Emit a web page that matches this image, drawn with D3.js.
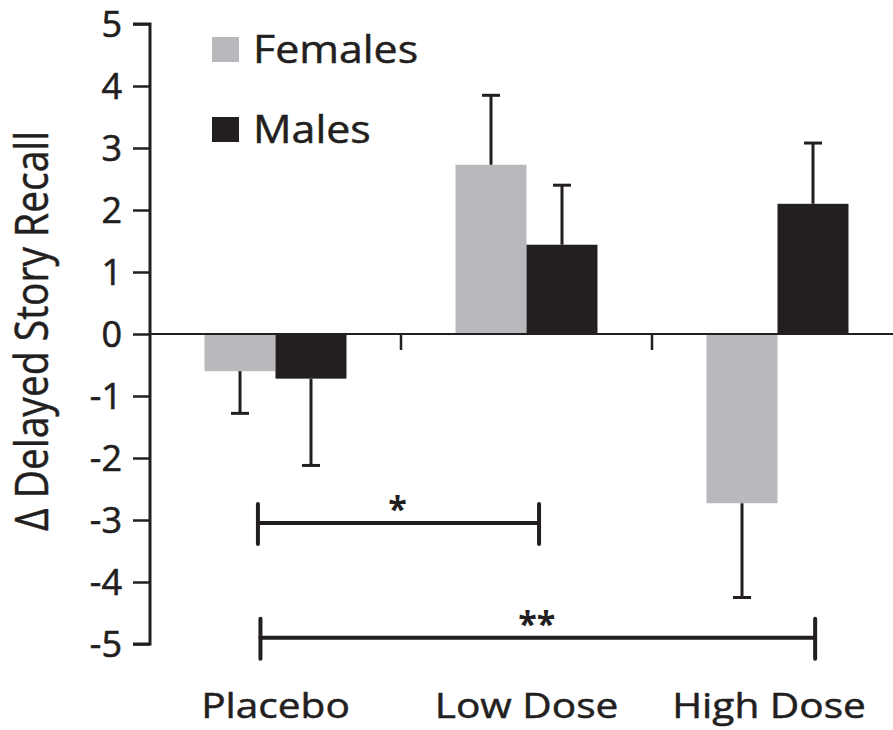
<!DOCTYPE html>
<html>
<head>
<meta charset="utf-8">
<script src="https://cdn.jsdelivr.net/npm/d3@7"></script>
<style>
  body { margin: 0; background: #fff; }
  text { font-family: "Open Sans", sans-serif; fill: #231f20; }
</style>
</head>
<body>
<div id="chart"></div>
<script>
// data
const groups = ["Placebo", "Low Dose", "High Dose"];
const sexes = ["Females", "Males"];
const femaleMean = [-0.6, 2.73, -2.73];
const femaleErr = [-1.28, 3.85, -4.25];
const maleMean = [-0.72, 1.44, 2.1];
const maleErr = [-2.12, 2.4, 3.08];
const yTicks = [5, 4, 3, 2, 1, 0, -1, -2, -3, -4, -5];
// significance brackets: from group index (+offset) to group index (+offset), at y value
const sigFrom = [-0.07, -0.06];
const sigTo = [1.05, 2.15];
const sigY = [-3.05, -4.9];
const sigLabel = ["*", "**"];

const Width = 893, Height = 730;
const colors = { Females: "#b9b9bd", Males: "#231f20" };
const ink = "#231f20";
const stretch = 1.16; // the source figure is a bit wider than its fonts

const svg = d3.select("#chart").append("svg")
    .attr("width", Width).attr("height", Height);

// scales
const axisX = 150;
const x0 = d3.scaleBand().domain(groups).range([axisX, 903]).paddingInner(0).paddingOuter(0);
const x1 = d3.scaleBand().domain(sexes).range([0, x0.bandwidth()]).paddingInner(0).paddingOuter(0.768);
const y = d3.scaleLinear().domain([-5, 5]).range([644, 24]);
// position of a group centre given a fractional index
const gx = i => x0(groups[0]) + x0.bandwidth() * (i + 0.5);

// y axis
const gy = svg.append("g").attr("transform", "translate(" + axisX + ",0)")
    .call(d3.axisLeft(y).tickValues(yTicks).tickSize(17).tickPadding(11).tickFormat(d => String(d)));
gy.select(".domain").attr("stroke", ink).attr("stroke-width", 3).attr("d", "M-17," + y(5) + "H0V" + y(-5) + "H-17");
gy.selectAll(".tick line").attr("stroke", ink).attr("stroke-width", 2.5);
gy.selectAll(".tick text").attr("font-size", 36).attr("font-family", "Open Sans, sans-serif")
    .attr("fill", ink).attr("stroke", ink).attr("stroke-width", 0.6).attr("dy", "0.36em");

// y title
svg.append("text")
    .attr("transform", "translate(48,331) rotate(-90) scale(1," + stretch + ")")
    .attr("text-anchor", "middle")
    .attr("font-size", 39)
    .attr("stroke", ink).attr("stroke-width", 0.4)
    .text("Δ Delayed Story Recall");

// bars
const rows = [];
groups.forEach((g, i) => {
    rows.push({ g: g, s: "Females", v: femaleMean[i], e: femaleErr[i] });
    rows.push({ g: g, s: "Males", v: maleMean[i], e: maleErr[i] });
});

svg.selectAll(".bar").data(rows).enter().append("rect")
    .attr("class", "bar")
    .attr("x", d => x0(d.g) + x1(d.s))
    .attr("width", x1.bandwidth())
    .attr("y", d => y(Math.max(0, d.v)))
    .attr("height", d => Math.abs(y(d.v) - y(0)))
    .attr("fill", d => colors[d.s]);

// error bars (one-sided)
const capW = 18;
const eb = svg.selectAll(".err").data(rows).enter().append("g").attr("class", "err")
    .attr("stroke", ink).attr("stroke-width", 3);
eb.append("line")
    .attr("x1", d => x0(d.g) + x1(d.s) + x1.bandwidth() / 2)
    .attr("x2", d => x0(d.g) + x1(d.s) + x1.bandwidth() / 2)
    .attr("y1", d => y(d.v))
    .attr("y2", d => y(d.e));
eb.append("line")
    .attr("x1", d => x0(d.g) + x1(d.s) + x1.bandwidth() / 2 - capW / 2)
    .attr("x2", d => x0(d.g) + x1(d.s) + x1.bandwidth() / 2 + capW / 2)
    .attr("y1", d => y(d.e))
    .attr("y2", d => y(d.e));

// zero line and group separators
svg.append("line")
    .attr("x1", axisX).attr("x2", Width)
    .attr("y1", y(0)).attr("y2", y(0))
    .attr("stroke", ink).attr("stroke-width", 2);
svg.selectAll(".sep").data(groups.slice(1)).enter().append("line")
    .attr("x1", d => x0(d)).attr("x2", d => x0(d))
    .attr("y1", y(0)).attr("y2", y(0) + 16)
    .attr("stroke", ink).attr("stroke-width", 2.5);

// x labels (last one kept inside the frame)
svg.selectAll(".xlab").data(groups).enter().append("text")
    .attr("transform", (d, i) => {
        const cx = i === groups.length - 1 ? 769 : x0(d) + x0.bandwidth() / 2;
        return "translate(" + cx + ",718) scale(" + stretch + ",1)";
    })
    .attr("text-anchor", "middle")
    .attr("font-size", 35)
    .attr("stroke", ink).attr("stroke-width", 0.5)
    .text(d => d);

// significance brackets
sigY.forEach((v, i) => {
    const g = svg.append("g").attr("stroke", ink).attr("stroke-width", 4).attr("stroke-linecap", "round");
    const xa = gx(sigFrom[i]), xb = gx(sigTo[i]);
    g.append("line").attr("x1", xa).attr("x2", xb).attr("y1", y(v)).attr("y2", y(v));
    g.append("line").attr("x1", xa).attr("x2", xa).attr("y1", y(v) - 19).attr("y2", y(v) + 21);
    g.append("line").attr("x1", xb).attr("x2", xb).attr("y1", y(v) - 19).attr("y2", y(v) + 21);
    svg.append("text")
        .attr("x", (xa + xb) / 2 - 1)
        .attr("y", y(v) - 2)
        .attr("text-anchor", "middle")
        .attr("font-size", 34)
        .attr("font-weight", "bold")
        .text(sigLabel[i]);
});

// legend
const leg = svg.selectAll(".leg").data(sexes).enter().append("g")
    .attr("transform", (d, i) => "translate(212," + (37 + i * 80) + ")");
leg.append("rect").attr("width", 27).attr("height", 25).attr("fill", d => colors[d]);
leg.append("text")
    .attr("transform", "translate(41,26) scale(1.1,1)")
    .attr("font-size", 39)
    .attr("stroke", ink).attr("stroke-width", 0.5)
    .text(d => d);
</script>
</body>
</html>
